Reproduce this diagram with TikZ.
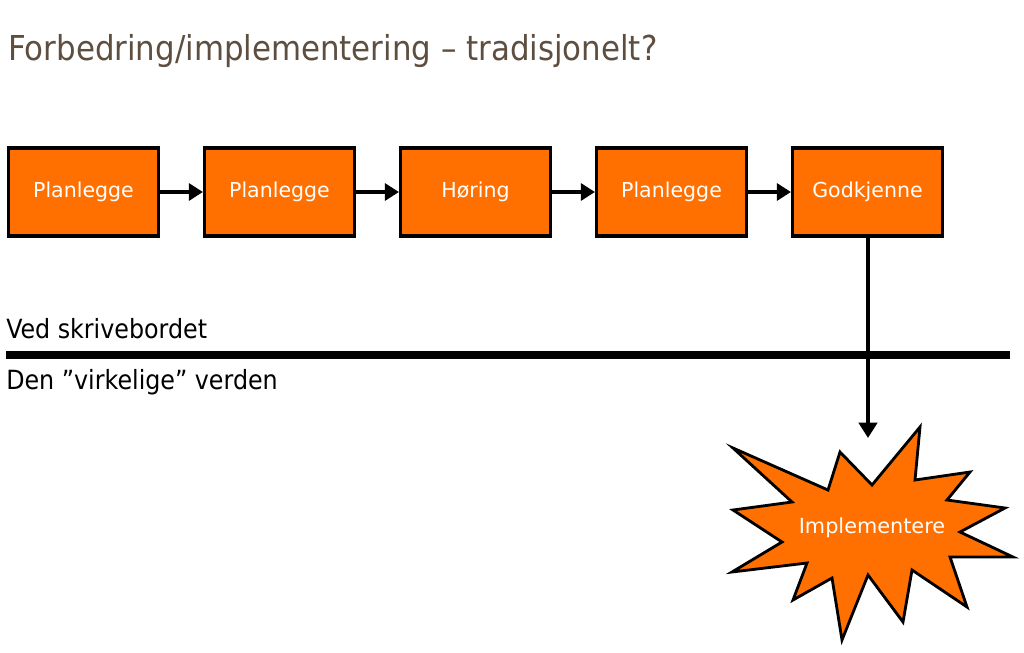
\documentclass[tikz,border=0pt]{standalone}
\usepackage{fontspec}
\setmainfont{DejaVu Sans}
\newfontfamily\condfont{DejaVu Sans Condensed}
\usetikzlibrary{arrows.meta}
\definecolor{boxorange}{RGB}{255,112,0}
\definecolor{titlebrown}{RGB}{94,78,64}
\begin{document}
\begin{tikzpicture}[x = 0.025cm, y = -0.025cm,
        stepbox/.style = {draw, line width = 2.2pt, fill = boxorange, text = white,
            minimum width = 3.75cm, minimum height = 2.2cm, font = \fontsize{14.6}{17}\selectfont},
        flow/.style = {line width = 2.8pt, -{Triangle[length = 10pt, width = 12pt]}}]
                \useasboundingbox (0,0) rectangle (1024,652);
                \node[anchor = base west, text = titlebrown, font = \condfont\fontsize{24.4}{28}\selectfont, inner sep = 0pt] (title) at (8,60) {Forbedring/implementering – tradisjonelt?};
                \node[stepbox] (plan1) at (83.5,192) {\raisebox{-1pt}{Planlegge}};
                \node[stepbox] (plan2) at (279.5,192) {\raisebox{-1pt}{Planlegge}};
                \node[stepbox] (horing) at (475.5,192) {\raisebox{-1pt}{Høring}};
                \node[stepbox] (plan3) at (671.5,192) {\raisebox{-1pt}{Planlegge}};
                \node[stepbox] (godkj) at (867.5,192) {\raisebox{-1pt}{Godkjenne}};
                \draw[flow] (plan1) -- (plan2);
                \draw[flow] (plan2) -- (horing);
                \draw[flow] (horing) -- (plan3);
                \draw[flow] (plan3) -- (godkj);
                \begin{scope}[every node/.append style = {font = \condfont\fontsize{18.8}{22}\selectfont, anchor = base west, inner sep = 0pt}]
                    \node (desk) at (6,338) {Ved skrivebordet};
                    \node (world) at (6,389) {Den ”virkelige” verden};
                \end{scope}
                \coordinate (lineL) at (6,355);
                \coordinate (lineR) at (1010,355);
                \draw[line width = 5.5pt] (lineL) -- (lineR);
                % starburst
                \draw[line width = 2pt, fill = boxorange, line join = miter]
                    (733,448) -- (828,490) -- (840,452) -- (872,485) -- (920,427) -- (915,480)
                    -- (970,472) -- (947,500) -- (1005,508) -- (960,532) -- (1013,557) -- (950,557)
                    -- (967,607) -- (912,570) -- (903,622) -- (868,575) -- (842,640) -- (832,578)
                    -- (793,600) -- (807,563) -- (732,572) -- (782,542) -- (733,510) -- (792,502) -- cycle;
                \node[text = white, font = \fontsize{14.8}{17}\selectfont] (impl) at (872,528) {Implementere};
                \coordinate (burstTop) at (868,438);
                \draw[flow, -{Triangle[length = 11pt, width = 13pt]}] (godkj.south -| burstTop) -- (burstTop);
            \end{tikzpicture}
\end{document}
